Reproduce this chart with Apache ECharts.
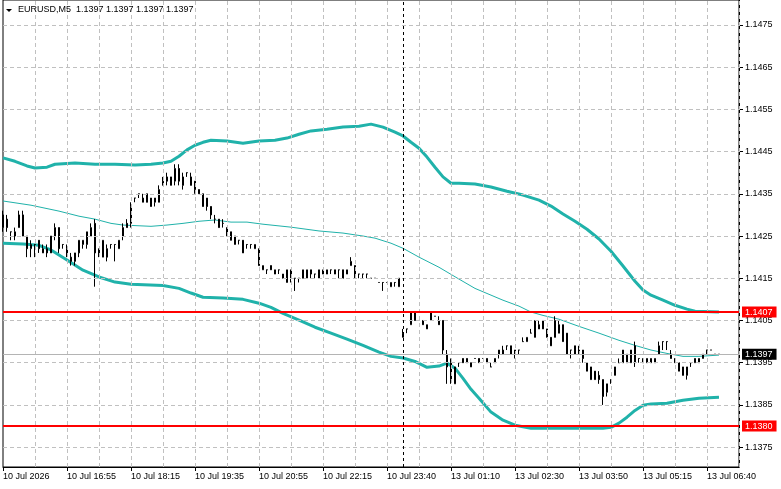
<!DOCTYPE html>
<html><head><meta charset="utf-8">
<script src="https://cdn.jsdelivr.net/npm/echarts@6/dist/echarts.min.js"></script>
<style>html,body{margin:0;padding:0;background:#fff}#c{width:781px;height:489px}</style>
</head><body><div id="c"></div>
<script>
const symbolName = 'EURUSD';
const timeframe = 'M5';
const xTickLabels = ['10 Jul 2026','10 Jul 16:55','10 Jul 18:15','10 Jul 19:35','10 Jul 20:55','10 Jul 22:15','10 Jul 23:40','13 Jul 01:10','13 Jul 02:30','13 Jul 03:50','13 Jul 05:15','13 Jul 06:40'];
const yTicks = [1.1375,1.1385,1.1395,1.1405,1.1415,1.1425,1.1435,1.1445,1.1455,1.1465,1.1475];
const levelLines = [1.1407, 1.1380];
const currentPrice = 1.1397;
const separatorIndex = 100;

const opens = [
1.1427,1.1429,1.1426,1.1425,1.1427,1.1430,1.1425,1.1422,1.1423,1.1424,
1.1421,1.1422,1.1421,1.1425,1.1427,1.1423,1.1422,1.1420,1.1419,1.1421,
1.1423,1.1423,1.1425,1.1428,1.1422,1.1420,1.1422,1.1423,1.1423,1.1422,
1.1425,1.1428,1.1428,1.1434,1.1435,1.1433,1.1435,1.1434,1.1433,1.1433,
1.1437,1.1439,1.1437,1.1438,1.1441,1.1437,1.1440,1.1439,1.1438,1.1436,
1.1435,1.1434,1.1432,1.1429,1.1429,1.1428,1.1427,1.1426,1.1423,1.1424,
1.1424,1.1423,1.1423,1.1422,1.1422,1.1417,1.1417,1.1418,1.1416,1.1417,
1.1416,1.1414,1.1417,1.1415,1.1415,1.1415,1.1415,1.1417,1.1416,1.1415,
1.1416,1.1416,1.1417,1.1417,1.1417,1.1417,1.1416,1.1418,1.1418,1.1416,
1.1416,1.1416,1.1415,1.1415,1.1414,1.1414,1.1414,1.1413,1.1414,1.1413,
1.1401,1.1403,1.1404,1.1407,1.1405,1.1405,1.1403,1.1405,1.1406,1.1405,
1.1405,1.1397,1.1395,1.1390,1.1395,1.1396,1.1396,1.1394,1.1396,1.1396,
1.1396,1.1396,1.1394,1.1395,1.1397,1.1397,1.1399,1.1399,1.1398,1.1398,
1.1400,1.1400,1.1402,1.1401,1.1404,1.1405,1.1403,1.1401,1.1401,1.1404,
1.1404,1.1402,1.1398,1.1399,1.1398,1.1398,1.1395,1.1394,1.1393,1.1392,
1.1391,1.1388,1.1391,1.1392,1.1395,1.1395,1.1397,1.1395,1.1399,1.1396,
1.1395,1.1395,1.1395,1.1395,1.1397,1.1400,1.1400,1.1397,1.1396,1.1395,
1.1394,1.1392,1.1395,1.1395,1.1395,1.1396,1.1398,1.1398,1.1397,1.1397];
const highs = [
1.1431,1.1430,1.1426,1.1427,1.1431,1.1431,1.1425,1.1424,1.1423,1.1424,
1.1423,1.1423,1.1425,1.1428,1.1427,1.1423,1.1423,1.1421,1.1421,1.1424,
1.1424,1.1426,1.1428,1.1429,1.1422,1.1424,1.1423,1.1423,1.1423,1.1424,
1.1428,1.1429,1.1433,1.1434,1.1435,1.1435,1.1435,1.1434,1.1434,1.1437,
1.1439,1.1440,1.1439,1.1442,1.1442,1.1440,1.1440,1.1440,1.1438,1.1436,
1.1435,1.1434,1.1432,1.1430,1.1429,1.1429,1.1427,1.1426,1.1425,1.1424,
1.1424,1.1423,1.1423,1.1423,1.1422,1.1418,1.1417,1.1418,1.1417,1.1417,
1.1416,1.1417,1.1417,1.1415,1.1415,1.1417,1.1417,1.1417,1.1416,1.1417,
1.1417,1.1417,1.1417,1.1417,1.1417,1.1417,1.1417,1.1420,1.1418,1.1416,
1.1416,1.1416,1.1415,1.1415,1.1414,1.1414,1.1414,1.1414,1.1414,1.1415,
1.1403,1.1403,1.1407,1.1407,1.1405,1.1405,1.1404,1.1407,1.1406,1.1406,
1.1405,1.1398,1.1396,1.1394,1.1395,1.1396,1.1396,1.1395,1.1396,1.1396,
1.1396,1.1396,1.1395,1.1396,1.1398,1.1399,1.1399,1.1399,1.1398,1.1398,
1.1401,1.1401,1.1403,1.1405,1.1405,1.1405,1.1403,1.1401,1.1406,1.1405,
1.1404,1.1402,1.1398,1.1399,1.1399,1.1398,1.1395,1.1394,1.1393,1.1393,
1.1391,1.1390,1.1391,1.1394,1.1396,1.1398,1.1397,1.1398,1.1400,1.1396,
1.1396,1.1396,1.1396,1.1396,1.1400,1.1400,1.1400,1.1398,1.1396,1.1395,
1.1394,1.1394,1.1395,1.1396,1.1396,1.1397,1.1398,1.1398,1.1397,1.1397];
const lows = [
1.1426,1.1426,1.1424,1.1424,1.1427,1.1425,1.1420,1.1420,1.1420,1.1421,
1.1421,1.1420,1.1421,1.1424,1.1421,1.1422,1.1420,1.1418,1.1418,1.1420,
1.1422,1.1422,1.1425,1.1413,1.1420,1.1420,1.1419,1.1422,1.1419,1.1422,
1.1424,1.1427,1.1427,1.1433,1.1434,1.1433,1.1433,1.1432,1.1432,1.1433,
1.1437,1.1437,1.1437,1.1437,1.1437,1.1436,1.1439,1.1437,1.1435,1.1435,
1.1432,1.1431,1.1429,1.1428,1.1427,1.1427,1.1425,1.1424,1.1423,1.1423,
1.1421,1.1422,1.1422,1.1422,1.1418,1.1417,1.1416,1.1417,1.1416,1.1416,
1.1415,1.1414,1.1414,1.1412,1.1414,1.1415,1.1415,1.1415,1.1415,1.1415,
1.1416,1.1416,1.1416,1.1416,1.1415,1.1415,1.1416,1.1418,1.1415,1.1415,
1.1415,1.1415,1.1415,1.1415,1.1414,1.1412,1.1414,1.1413,1.1413,1.1413,
1.1401,1.1402,1.1404,1.1405,1.1405,1.1404,1.1403,1.1405,1.1406,1.1404,
1.1397,1.1390,1.1390,1.1390,1.1394,1.1395,1.1395,1.1394,1.1396,1.1395,
1.1396,1.1395,1.1394,1.1395,1.1396,1.1397,1.1398,1.1397,1.1396,1.1397,
1.1400,1.1400,1.1402,1.1401,1.1403,1.1403,1.1401,1.1399,1.1401,1.1402,
1.1400,1.1397,1.1396,1.1397,1.1397,1.1395,1.1393,1.1391,1.1391,1.1390,
1.1385,1.1387,1.1390,1.1392,1.1395,1.1395,1.1395,1.1395,1.1394,1.1395,
1.1395,1.1395,1.1395,1.1395,1.1397,1.1398,1.1398,1.1396,1.1395,1.1393,
1.1392,1.1391,1.1394,1.1395,1.1395,1.1396,1.1397,1.1398,1.1397,1.1397];
const closes = [
1.1430,1.1427,1.1426,1.1426,1.1430,1.1425,1.1422,1.1423,1.1423,1.1422,
1.1422,1.1421,1.1425,1.1427,1.1422,1.1423,1.1421,1.1419,1.1421,1.1424,
1.1424,1.1426,1.1427,1.1421,1.1421,1.1424,1.1420,1.1423,1.1423,1.1424,
1.1427,1.1427,1.1432,1.1434,1.1435,1.1434,1.1433,1.1432,1.1434,1.1436,
1.1438,1.1438,1.1439,1.1441,1.1438,1.1439,1.1440,1.1437,1.1436,1.1435,
1.1432,1.1432,1.1430,1.1429,1.1427,1.1428,1.1425,1.1424,1.1425,1.1424,
1.1421,1.1423,1.1423,1.1423,1.1418,1.1418,1.1417,1.1417,1.1417,1.1417,
1.1415,1.1417,1.1415,1.1415,1.1415,1.1417,1.1417,1.1416,1.1416,1.1417,
1.1417,1.1417,1.1417,1.1416,1.1417,1.1415,1.1417,1.1419,1.1415,1.1416,
1.1416,1.1416,1.1415,1.1415,1.1414,1.1414,1.1414,1.1414,1.1414,1.1415,
1.1402,1.1403,1.1407,1.1405,1.1405,1.1404,1.1404,1.1407,1.1406,1.1404,
1.1398,1.1394,1.1391,1.1394,1.1395,1.1395,1.1395,1.1395,1.1396,1.1395,
1.1396,1.1395,1.1394,1.1396,1.1398,1.1398,1.1399,1.1397,1.1397,1.1398,
1.1400,1.1401,1.1402,1.1405,1.1403,1.1403,1.1401,1.1399,1.1405,1.1402,
1.1400,1.1397,1.1398,1.1397,1.1397,1.1396,1.1393,1.1391,1.1391,1.1391,
1.1387,1.1390,1.1391,1.1394,1.1395,1.1398,1.1395,1.1398,1.1395,1.1396,
1.1396,1.1396,1.1396,1.1396,1.1399,1.1400,1.1400,1.1396,1.1395,1.1393,
1.1392,1.1394,1.1395,1.1396,1.1396,1.1397,1.1398,1.1398,1.1397,1.1397];

const upperBand = [[0,1.14435],[3,1.14427],[6,1.14416],[8,1.14411],[11,1.14413],[13,1.14420],[18,1.14423],[23,1.14420],[28,1.14420],[33,1.14418],[37,1.14420],[40,1.14423],[42,1.14427],[44,1.14439],[46,1.14454],[48,1.14465],[50,1.14472],[52,1.14477],[56,1.14475],[60,1.14470],[64,1.14475],[68,1.14477],[71,1.14482],[74,1.14491],[77,1.14499],[81,1.14503],[85,1.14508],[89,1.14510],[92,1.14515],[95,1.14508],[98,1.14496],[100,1.14487],[102,1.14472],[104,1.14458],[106,1.14437],[108,1.14413],[110,1.14390],[112,1.14375],[114,1.14375],[118,1.14373],[122,1.14366],[126,1.14356],[130,1.14347],[134,1.14335],[137,1.14321],[140,1.14302],[143,1.14285],[146,1.14266],[149,1.14243],[152,1.14214],[155,1.14179],[158,1.14143],[160,1.14122],[162,1.14110],[165,1.14098],[168,1.14086],[171,1.14077],[173,1.14072],[179,1.14070]];
const middleBand = [[0,1.14333],[7,1.14323],[14,1.14309],[19,1.14297],[23,1.14290],[27,1.14280],[30,1.14276],[37,1.14273],[41,1.14276],[45,1.14280],[49,1.14285],[53,1.14288],[57,1.14283],[61,1.14283],[65,1.14278],[72,1.14271],[79,1.14262],[85,1.14257],[90,1.14250],[93,1.14245],[97,1.14233],[100,1.14221],[104,1.14200],[109,1.14176],[114,1.14148],[118,1.14126],[122,1.14110],[125,1.14098],[129,1.14084],[132,1.14070],[135,1.14062],[139,1.14053],[144,1.14036],[149,1.14020],[154,1.14003],[158,1.13991],[162,1.13980],[166,1.13972],[170,1.13965],[174,1.13965],[179,1.13968]];
const lowerBand = [[0,1.14233],[5,1.14231],[9,1.14228],[12,1.14217],[16,1.14193],[20,1.14169],[24,1.14153],[28,1.14141],[32,1.14136],[40,1.14133],[44,1.14126],[47,1.14115],[50,1.14105],[55,1.14103],[60,1.14100],[64,1.14091],[67,1.14081],[70,1.14067],[74,1.14051],[78,1.14034],[82,1.14020],[86,1.14006],[90,1.13991],[94,1.13975],[97,1.13965],[100,1.13961],[103,1.13953],[106,1.13939],[109,1.13942],[111,1.13949],[113,1.13937],[115,1.13913],[117,1.13887],[119,1.13866],[122,1.13833],[125,1.13814],[128,1.13802],[132,1.13795],[138,1.13795],[144,1.13795],[150,1.13795],[152,1.13797],[154,1.13807],[156,1.13821],[158,1.13837],[160,1.13849],[162,1.13852],[166,1.13854],[170,1.13861],[174,1.13866],[179,1.13868]];

const slotCount = 185;
const labelStep = 16;
const gridStep = 8;
const categories = Array.from({length: slotCount}, (_, i) => String(i));
const vGridIdx = categories.map((c, i) => i).filter(i => i > 0 && i % gridStep === 0);
const candleData = opens.map((o, i) => [o, closes[i], lows[i], highs[i]]);
const FONT = 'Liberation Sans';
const TEAL = '#20b2aa';
const GRIDC = '#c0c0c0';
const last = opens.length - 1;
const titleText = symbolName + ',' + timeframe + '  ' + [opens[last], highs[last], lows[last], closes[last]].map(v => v.toFixed(4)).join(' ');

const priceLabel = (bg, val) => ({show: true, position: 'end', distance: 3, color: '#fff', backgroundColor: bg,
  padding: [1, 4, 0, 3], fontFamily: FONT, fontSize: 9, lineHeight: 10, formatter: () => val.toFixed(4)});

const chart = echarts.init(document.getElementById('c'), null, {renderer: 'canvas'});
chart.setOption({
  animation: false,
  backgroundColor: '#ffffff',
  grid: {left: 3, right: 42, top: 0, bottom: 22, show: true, borderColor: '#000', borderWidth: 1, backgroundColor: 'transparent'},
  graphic: [
    {type: 'polygon', shape: {points: [[6, 9], [12, 9], [9, 12]]}, style: {fill: '#000'}, z: 100},
    {type: 'text', left: 18, top: 5, style: {text: titleText, font: '9px "' + FONT + '"', fill: '#000'}, z: 100}
  ],
  xAxis: {
    type: 'category', data: categories, boundaryGap: false,
    axisLine: {show: true, lineStyle: {color: '#000'}},
    axisTick: {show: true, interval: labelStep - 1, length: 4, lineStyle: {color: '#000'}},
    axisLabel: {interval: labelStep - 1, align: 'left', margin: 5, fontFamily: FONT, fontSize: 9, color: '#000',
      formatter: (v, idx) => (idx % labelStep === 0 && xTickLabels[idx / labelStep]) ? xTickLabels[idx / labelStep] : ''},
    splitLine: {show: false}
  },
  yAxis: {
    type: 'value', position: 'right', min: 1.13703, max: 1.14809, scale: true,
    axisLine: {show: true, lineStyle: {color: '#000'}},
    axisTick: {show: true, length: 4, lineStyle: {color: '#000'}, customValues: yTicks},
    axisLabel: {margin: 6, fontFamily: FONT, fontSize: 9, color: '#000', customValues: yTicks, formatter: v => v.toFixed(4)},
    splitLine: {show: false}
  },
  series: [
    {type: 'line', data: [], z: 1, silent: true,
     markLine: {silent: true, symbol: 'none', animation: false, precision: 5, label: {show: false},
       lineStyle: {color: GRIDC, type: [4, 3], width: 1},
       data: yTicks.map(v => ({yAxis: v})).concat(vGridIdx.map(i => ({xAxis: i})))}},
    {type: 'line', data: [], z: 1, silent: true,
     markLine: {silent: true, symbol: 'none', animation: false, precision: 5, label: {show: false},
       lineStyle: {color: '#000', type: [3, 3], width: 1},
       data: [{xAxis: separatorIndex}]}},
    {type: 'line', name: 'upper', data: upperBand, showSymbol: false, symbol: 'none', z: 3, silent: true,
     lineStyle: {color: TEAL, width: 3}},
    {type: 'line', name: 'middle', data: middleBand, showSymbol: false, symbol: 'none', z: 3, silent: true,
     lineStyle: {color: TEAL, width: 1}},
    {type: 'line', name: 'lower', data: lowerBand, showSymbol: false, symbol: 'none', z: 3, silent: true,
     lineStyle: {color: TEAL, width: 3}},
    {type: 'line', data: [], z: 3, silent: true,
     markLine: {silent: true, symbol: 'none', animation: false, precision: 5,
       lineStyle: {color: '#b4b4b4', type: 'solid', width: 1},
       label: priceLabel('#000000', currentPrice),
       data: [{yAxis: currentPrice}]}},
    {type: 'candlestick', data: candleData, barWidth: 2, z: 4, silent: true,
     itemStyle: {color: '#ffffff', color0: '#000000', borderColor: '#000000', borderColor0: '#000000', borderWidth: 1}},
    {type: 'line', data: [], z: 5, silent: true,
     markLine: {silent: true, symbol: 'none', animation: false, precision: 5,
       lineStyle: {color: '#ff0000', type: 'solid', width: 2},
       label: {show: true, position: 'end', distance: 3, color: '#fff', backgroundColor: '#ff0000',
         padding: [1, 4, 0, 3], fontFamily: FONT, fontSize: 9, lineHeight: 10,
         formatter: p => levelLines[p.dataIndex].toFixed(4)},
       data: levelLines.map(v => ({yAxis: v}))}}
  ]
});
</script></body></html>
